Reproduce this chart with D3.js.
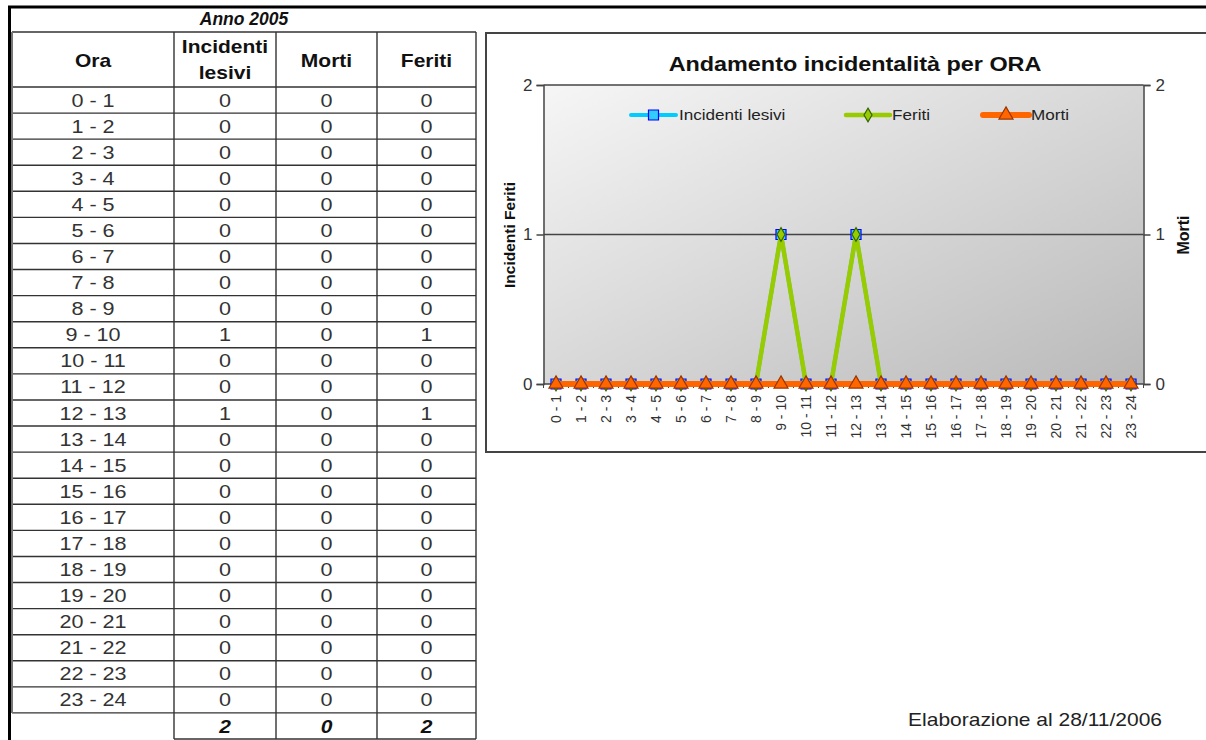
<!DOCTYPE html>
<html>
<head>
<meta charset="utf-8">
<script src="https://cdn.jsdelivr.net/npm/d3@7"></script>
<style>
  body { margin: 0; background: #fff; }
  svg { display: block; font-family: "Liberation Sans", Arial, sans-serif; }
</style>
</head>
<body>
<svg id="page" width="1206" height="740"></svg>
<script>
// data
var ore = ["0 - 1","1 - 2","2 - 3","3 - 4","4 - 5","5 - 6","6 - 7","7 - 8","8 - 9","9 - 10","10 - 11","11 - 12",
           "12 - 13","13 - 14","14 - 15","15 - 16","16 - 17","17 - 18","18 - 19","19 - 20","20 - 21","21 - 22","22 - 23","23 - 24"];
var incidentiLesivi = [0,0,0,0,0,0,0,0,0,1,0,0,1,0,0,0,0,0,0,0,0,0,0,0];
var morti           = [0,0,0,0,0,0,0,0,0,0,0,0,0,0,0,0,0,0,0,0,0,0,0,0];
var feriti          = [0,0,0,0,0,0,0,0,0,1,0,0,1,0,0,0,0,0,0,0,0,0,0,0];
var yTicks = [0, 1, 2];

var svg = d3.select('#page');
var SX = 1.2; // the source is stretched sideways

// text placed at x,y and widened horizontally
function wideText(parent, x, y, txt, size, opts) {
    opts = opts || {};
    var t = parent.append('text')
        .attr('transform', 'translate(' + x + ',' + y + ') scale(' + (opts.sx || SX) + ',1)')
        .attr('text-anchor', opts.anchor || 'middle')
        .style('font-size', size + 'px')
        .attr('fill', opts.fill || '#222')
        .text(txt);
    if (opts.bold) t.style('font-weight', 'bold');
    if (opts.italic) t.style('font-style', 'italic');
    return t;
}

// page frame (thick black lines top and left)
svg.append('line').attr('x1', 8).attr('x2', 1206).attr('y1', 7).attr('y2', 7)
    .attr('stroke', '#000').attr('stroke-width', 3);
svg.append('line').attr('x1', 9.5).attr('x2', 9.5).attr('y1', 6).attr('y2', 740)
    .attr('stroke', '#000').attr('stroke-width', 3);

// ---------- table ----------
var colX = [12, 174, 276, 377, 476];
var headTop = 32, rowTop = 87, rowH = 26.08;
var rows = ore.map(function(o, i) { return [o, incidentiLesivi[i], morti[i], feriti[i]]; });
var tbl = svg.append('g');
var lineCol = '#333';

wideText(tbl, (colX[0] + colX[4]) / 2, 25, 'Anno 2005', 17.5, { sx: 1.0, bold: true, italic: true, fill: '#111' });

var bodyBottom = rowTop + rowH * ore.length;
// horizontal lines
var hLines = [headTop, rowTop].concat(d3.range(1, ore.length + 1).map(function(i) { return rowTop + i * rowH; }));
tbl.selectAll('.hl').data(hLines).enter().append('line')
    .attr('x1', colX[0]).attr('x2', colX[4])
    .attr('y1', function(d) { return d; }).attr('y2', function(d) { return d; })
    .attr('stroke', lineCol).attr('stroke-width', 1.4);
// vertical lines
tbl.selectAll('.vl').data(colX).enter().append('line')
    .attr('x1', function(d) { return d; }).attr('x2', function(d) { return d; })
    .attr('y1', headTop).attr('y2', function(d, i) { return i === 0 ? bodyBottom : 739; })
    .attr('stroke', function(d, i) { return i === 0 ? '#777' : lineCol; })
    .attr('stroke-width', function(d, i) { return i === 0 ? 2 : 1.4; });
tbl.append('line').attr('x1', colX[1]).attr('x2', colX[4]).attr('y1', 739).attr('y2', 739)
    .attr('stroke', lineCol).attr('stroke-width', 1.4);

// header
function cx(i) { return (colX[i] + colX[i + 1]) / 2; }
var hOpt = { bold: true, fill: '#111' };
wideText(tbl, cx(0), 67, 'Ora', 17.5, hOpt);
wideText(tbl, cx(1), 53, 'Incidenti', 17.5, hOpt);
wideText(tbl, cx(1), 79, 'lesivi', 17.5, hOpt);
wideText(tbl, cx(2), 67, 'Morti', 17.5, hOpt);
wideText(tbl, cx(3), 67, 'Feriti', 17.5, hOpt);

// body cells
rows.forEach(function(r, ri) {
    r.forEach(function(v, ci) {
        wideText(tbl, cx(ci), rowTop + ri * rowH + rowH / 2 + 6.5, v, 18, { fill: '#333' });
    });
});
// totals
[d3.sum(incidentiLesivi), d3.sum(morti), d3.sum(feriti)].forEach(function(v, i) {
    wideText(tbl, cx(i + 1), 733, v, 17.5, { bold: true, italic: true, fill: '#111' });
});

// ---------- chart ----------
var box = { x: 486, y: 33, w: 725, h: 419 };
svg.append('rect').attr('x', box.x).attr('y', box.y).attr('width', box.w).attr('height', box.h)
    .attr('fill', '#fff').attr('stroke', '#444').attr('stroke-width', 2);

wideText(svg, 855, 71, 'Andamento incidentalità per ORA', 19.5, { bold: true, fill: '#111', sx: 1.2 });

var plot = { left: 543.5, right: 1143.5, top: 85, bottom: 384 };

var defs = svg.append('defs');
var grad = defs.append('linearGradient').attr('id', 'bg')
    .attr('x1', '0').attr('y1', '0').attr('x2', '1').attr('y2', '1');
grad.append('stop').attr('offset', '0%').attr('stop-color', '#f6f6f6');
grad.append('stop').attr('offset', '100%').attr('stop-color', '#b9b9b9');

svg.append('rect').attr('x', plot.left).attr('y', plot.top)
    .attr('width', plot.right - plot.left).attr('height', plot.bottom - plot.top)
    .attr('fill', 'url(#bg)');

var x = d3.scalePoint().domain(ore).range([plot.left, plot.right]).padding(0.5);
var xBand = d3.scaleBand().domain(ore).range([plot.left, plot.right]);
var y = d3.scaleLinear().domain([0, 2]).range([plot.bottom, plot.top]);
var y2 = d3.scaleLinear().domain([0, 2]).range([plot.bottom, plot.top]);

// gridlines
svg.selectAll('.grid').data(yTicks).enter().append('line')
    .attr('x1', plot.left).attr('x2', plot.right)
    .attr('y1', function(d) { return y(d); }).attr('y2', function(d) { return y(d); })
    .attr('stroke', '#444').attr('stroke-width', 1.5);

// left axis
var axL = svg.append('g').attr('transform', 'translate(' + plot.left + ',0)')
    .call(d3.axisLeft(y).tickValues(yTicks).tickFormat(d3.format('d')).tickSize(7).tickPadding(4));
// right axis
var axR = svg.append('g').attr('transform', 'translate(' + plot.right + ',0)')
    .call(d3.axisRight(y2).tickValues(yTicks).tickFormat(d3.format('d')).tickSize(7).tickPadding(5));
[axL, axR].forEach(function(a) {
    a.select('.domain').attr('stroke', '#444').attr('stroke-width', 1.5);
    a.selectAll('.tick line').attr('stroke', '#444').attr('stroke-width', 1.5);
    a.selectAll('.tick text').style('font-size', '17px').attr('fill', '#333')
        .style('font-family', '"Liberation Sans", Arial, sans-serif');
});

// x axis tick marks at band boundaries
var bounds = ore.map(function(o) { return xBand(o); }).concat([plot.right]);
svg.selectAll('.xt').data(bounds).enter().append('line')
    .attr('x1', function(d) { return d; }).attr('x2', function(d) { return d; })
    .attr('y1', plot.bottom).attr('y2', plot.bottom + 4)
    .attr('stroke', '#444').attr('stroke-width', 1);

// x labels
svg.selectAll('.xl').data(ore).enter().append('text')
    .attr('transform', function(d) { return 'translate(' + (x(d) + 4.5) + ',' + (plot.bottom + 11) + ') rotate(-90)'; })
    .attr('text-anchor', 'end').style('font-size', '14px').attr('fill', '#333')
    .text(function(d) { return d; });

// axis titles
svg.append('text').attr('transform', 'translate(515,235) rotate(-90)')
    .attr('text-anchor', 'middle').style('font-size', '15.5px').style('font-weight', 'bold').attr('fill', '#111')
    .text('Incidenti Feriti');
svg.append('text').attr('transform', 'translate(1189,235) rotate(-90)')
    .attr('text-anchor', 'middle').style('font-size', '16px').style('font-weight', 'bold').attr('fill', '#111')
    .text('Morti');

// series
var series = [
    { name: 'Incidenti lesivi', values: incidentiLesivi, scale: y, line: '#00ccff', width: 4,
      shape: d3.symbolSquare, size: 100, fill: '#33ccff', stroke: '#0000ff' },
    { name: 'Feriti', values: feriti, scale: y, line: '#99cc00', width: 4.5,
      shape: d3.symbolDiamond, size: 55, fill: '#99cc00', stroke: '#336600' },
    { name: 'Morti', values: morti, scale: y2, line: '#ff6600', width: 6,
      shape: d3.symbolTriangle, size: 85, fill: '#ff6600', stroke: '#993300' }
];

series.forEach(function(s) {
    var g = svg.append('g');
    var pts = ore.map(function(o, i) { return [x(o), s.scale(s.values[i])]; });
    g.append('path').attr('d', d3.line()(pts)).attr('fill', 'none')
        .attr('stroke', s.line).attr('stroke-width', s.width).attr('stroke-linejoin', 'miter');
    g.selectAll('path.m').data(pts).enter().append('path').attr('class', 'm')
        .attr('d', d3.symbol().type(s.shape).size(s.size))
        .attr('transform', function(d) { return 'translate(' + d[0] + ',' + d[1] + ')'; })
        .attr('fill', s.fill).attr('stroke', s.stroke).attr('stroke-width', 1.2);
});

// legend
var legend = [
    { s: series[0], x1: 631, x2: 676, tx: 679 },
    { s: series[1], x1: 846, x2: 890, tx: 892 },
    { s: series[2], x1: 983, x2: 1029, tx: 1031 }
];
var ly = 115;
legend.forEach(function(l) {
    svg.append('line').attr('x1', l.x1).attr('x2', l.x2).attr('y1', ly).attr('y2', ly)
        .attr('stroke', l.s.line).attr('stroke-width', l.s.width).attr('stroke-linecap', 'round');
    svg.append('path').attr('d', d3.symbol().type(l.s.shape).size(l.s.size)())
        .attr('transform', 'translate(' + ((l.x1 + l.x2) / 2) + ',' + ly + ')')
        .attr('fill', l.s.fill).attr('stroke', l.s.stroke).attr('stroke-width', 1.2);
    wideText(svg, l.tx, ly + 5, l.s.name, 14.5, { anchor: 'start', fill: '#222', sx: 1.18 });
});

// footer note
wideText(svg, 1162, 726, 'Elaborazione al 28/11/2006', 17.5, { anchor: 'end', fill: '#222', sx: 1.2 });
</script>
</body>
</html>
